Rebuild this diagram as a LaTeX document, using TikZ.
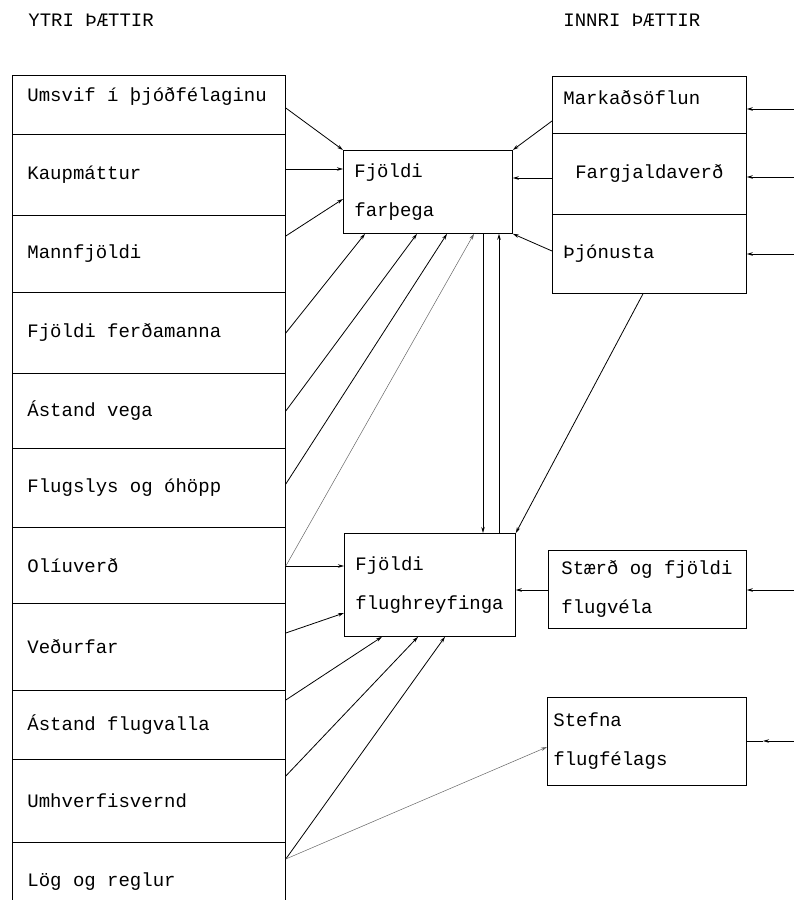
\documentclass[tikz,border=0pt]{standalone}
\usepackage{fontspec}
\setmainfont{Liberation Mono}
\usetikzlibrary{arrows.meta}
\newcommand\schriftart{\fontsize{19}{39}\selectfont}
\begin{document}
\begin{tikzpicture}[x=1pt,y=-1pt,font=\schriftart,line width=0.8pt,
    every node/.append style={execute at begin node={\spaceskip=0.6em\relax}},
    faktor/.style={draw,anchor=north west,minimum width=273pt,text width=243pt,inner xsep=15pt,inner ysep=0pt,align=left},
    innri/.style={draw,anchor=north west,minimum width=194pt,text width=172pt,inner xsep=11pt,inner ysep=0pt,align=left},
    ziel/.style={draw,anchor=north west,inner ysep=0pt,align=left},
    pfeil/.style={-{Stealth[length=6pt,width=3.5pt]}},
    duenn/.style={pfeil,line width=0.5pt,black!60}]
    \useasboundingbox (0,0) rectangle (794,900);
    \node[anchor=west,inner sep=0pt] (ytri) at (28,20) {YTRI ÞÆTTIR};
    \node[anchor=west,inner sep=0pt] (innri) at (563,20) {INNRI ÞÆTTIR}; %Ueberschriften
    \node[faktor,minimum height=59pt,text depth=20pt] (umsvif) at (12,75) {Umsvif í þjóðfélaginu};
    \node[faktor,minimum height=81pt] (kaup) at (12,134) {Kaupmáttur};
    \node[faktor,minimum height=77pt] (mann) at (12,215) {Mannfjöldi};
    \node[faktor,minimum height=81pt] (ferda) at (12,292) {Fjöldi ferðamanna};
    \node[faktor,minimum height=75pt] (vega) at (12,373) {Ástand vega};
    \node[faktor,minimum height=79pt] (slys) at (12,448) {Flugslys og óhöpp};
    \node[faktor,minimum height=76pt] (olia) at (12,527) {Olíuverð};
    \node[faktor,minimum height=87pt] (vedur) at (12,603) {Veðurfar};
    \node[faktor,minimum height=69pt] (vellir) at (12,690) {Ástand flugvalla};
    \node[faktor,minimum height=83pt] (umhverfi) at (12,759) {Umhverfisvernd};
    \node[faktor,draw=none,minimum height=58pt,text height=34pt] (log) at (12,842) {Lög og reglur};
    \draw (log.south west) -- (log.north west) (log.north east) -- (log.south east); %linke Spalte
    \node[innri,minimum height=57pt,text depth=14pt] (markad) at (552,76) {Markaðsöflun};
    \node[innri,minimum height=81pt,align=center] (fargjald) at (552,133) {Fargjaldaverð};
    \node[innri,minimum height=79pt] (thjon) at (552,214) {Þjónusta}; %rechte Spalte
    \node[ziel,minimum height=83pt,text width=147pt,inner xsep=11pt] (farpega) at (343,150) {Fjöldi\\farþega};
    \node[ziel,minimum height=103pt,text width=149pt,inner xsep=11pt] (flug) at (344,533) {Fjöldi\\flughreyfinga};
    \node[ziel,minimum height=78pt,text width=172pt,inner xsep=13pt] (staerd) at (548,550) {Stærð og fjöldi\\flugvéla};
    \node[ziel,minimum height=88pt,text width=187pt,inner xsep=6pt] (stefna) at (547,697) {Stefna\\flugfélags};
    \coordinate (markadinn) at (794,109);
    \coordinate (fargjaldinn) at (794,177);
    \coordinate (thjoninn) at (794,254);
    \coordinate (staerdinn) at (794,590);
    \coordinate (stefnainn) at (794,741);
    \coordinate (stefnamitte) at (763,741); %freie Enden rechts

    \draw[pfeil] (umsvif.east |- 0,108) -- (farpega.north west);
    \draw[pfeil] (kaup.east |- 0,169) -- (farpega.west |- 0,169);
    \draw[pfeil] (mann.east |- 0,236) -- (farpega.west |- 0,199);
    \draw[pfeil] (ferda.east |- 0,333) -- (365,0 |- farpega.south);
    \draw[pfeil] (vega.east |- 0,411) -- (417,0 |- farpega.south);
    \draw[pfeil] (slys.east |- 0,484) -- (447,0 |- farpega.south);
    \draw[duenn] (olia.east |- 0,566) -- (474,0 |- farpega.south);
    \draw[pfeil] (olia.east |- 0,566) -- (flug.west |- 0,566);
    \draw[pfeil] (vedur.east |- 0,633) -- (flug.west |- 0,613);
    \draw[pfeil] (vellir.east |- 0,700) -- (382,0 |- flug.south);
    \draw[pfeil] (umhverfi.east |- 0,776) -- (418,0 |- flug.south);
    \draw[pfeil] (log.east |- 0,859) -- (445,0 |- flug.south);
    \draw[duenn] (log.east |- 0,859) -- (stefna.west |- 0,747); %von links
    \draw[pfeil] (483,0 |- farpega.south) -- (483,0 |- flug.north);
    \draw[pfeil] (499,0 |- flug.north) -- (499,0 |- farpega.south); %Mitte
    \draw[pfeil] (markad.west |- 0,121) -- (farpega.north east);
    \draw[pfeil] (fargjald.west |- 0,178) -- (farpega.east |- 0,178);
    \draw[pfeil] (thjon.west |- 0,251) -- (farpega.south east);
    \draw[pfeil] (643,0 |- thjon.south) -- (flug.north east);
    \draw[pfeil] (staerd.west |- 0,590) -- (flug.east |- 0,590); %von rechts
    \draw[pfeil] (markadinn) -- (markad.east |- markadinn);
    \draw[pfeil] (fargjaldinn) -- (fargjald.east |- fargjaldinn);
    \draw[pfeil] (thjoninn) -- (thjon.east |- thjoninn);
    \draw[pfeil] (staerdinn) -- (staerd.east |- staerdinn);
    \draw[pfeil] (stefnainn) -- (stefnamitte);
    \draw (stefnamitte) -- (stefna.east |- stefnamitte); %Rand rechts
\end{tikzpicture}
\end{document}
